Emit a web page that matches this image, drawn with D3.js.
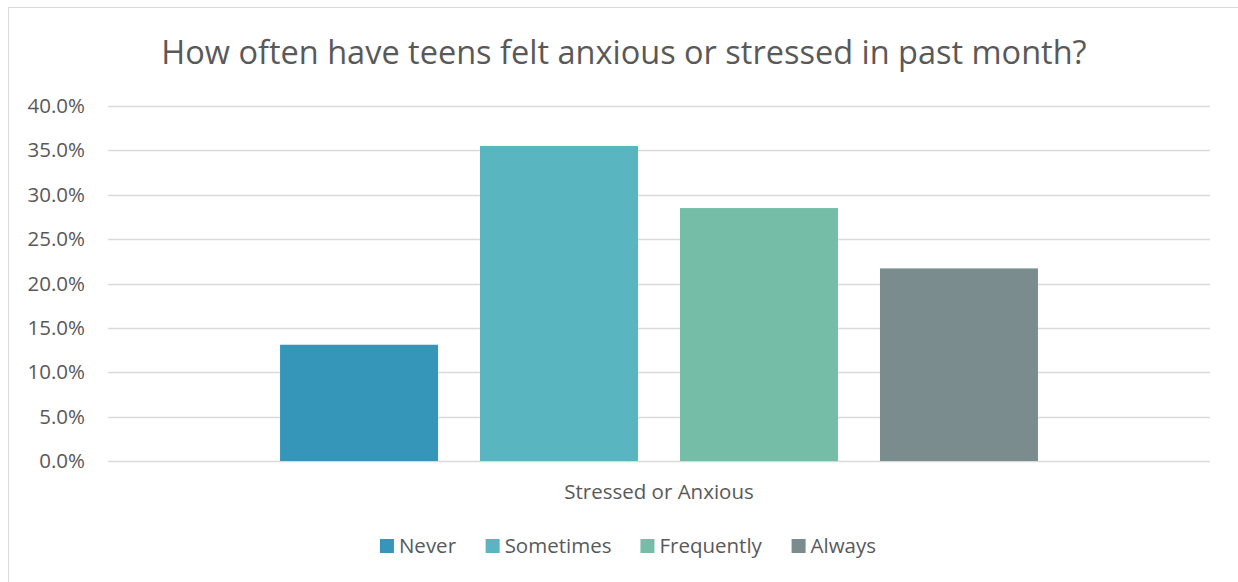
<!DOCTYPE html>
<html>
<head>
<meta charset="utf-8">
<script src="https://cdn.jsdelivr.net/npm/d3@7"></script>
<style>
  html, body { margin: 0; padding: 0; background: #fff; }
  svg { display: block; }
  text { font-family: "Open Sans", "Noto Sans", sans-serif; fill: #595959; }
</style>
</head>
<body>
<svg id="chart" width="1238" height="582"></svg>
<script>
// Survey responses: share of teens by how often they felt anxious/stressed
const categories = ["Stressed or Anxious"];
const seriesNames = ["Never", "Sometimes", "Frequently", "Always"];
const seriesValues = [0.131, 0.355, 0.285, 0.217];
const seriesColors = ["#3596B9", "#59B5C0", "#75BDA7", "#7A8C8E"];
const yTicks = [0, 0.05, 0.10, 0.15, 0.20, 0.25, 0.30, 0.35, 0.40];
const titleText = "How often have teens felt anxious or stressed in past month?";

const W = 1238, H = 582;
const margin = { top: 106, right: 28, bottom: 121, left: 108 };
const frameCenter = 626;
const svg = d3.select("#chart");

// Outer chart frame
svg.append("rect")
  .attr("x", 8.5).attr("y", 7.5)
  .attr("width", W + 10).attr("height", H + 10)
  .attr("fill", "#fff").attr("stroke", "#D9D9D9").attr("stroke-width", 1);

const x0 = d3.scaleBand()
  .domain(categories)
  .range([margin.left, W - margin.right])
  .paddingInner(0)
  .paddingOuter(0.227);

const x1 = d3.scaleBand()
  .domain(seriesNames)
  .range([0, x0.bandwidth()])
  .paddingInner(0.21)
  .paddingOuter(0);

const y = d3.scaleLinear()
  .domain([0, 0.40])
  .range([H - margin.bottom, margin.top]);

// Horizontal gridlines
svg.append("g")
  .selectAll("line")
  .data(yTicks)
  .join("line")
  .attr("x1", margin.left).attr("x2", W - margin.right)
  .attr("y1", d => Math.round(y(d)) + 0.5).attr("y2", d => Math.round(y(d)) + 0.5)
  .attr("stroke", "#D9D9D9").attr("stroke-width", 1.3);

// Y axis labels
const yAxis = d3.axisLeft(y)
  .tickValues(yTicks)
  .tickFormat(d3.format(".1%"))
  .tickSize(0)
  .tickPadding(23);

const yG = svg.append("g")
  .attr("transform", `translate(${margin.left},0)`)
  .call(yAxis);
yG.select(".domain").remove();
yG.selectAll("text")
  .style("font-size", "20.5px")
  .attr("fill", "#595959");

// Bars
const groups = svg.append("g")
  .selectAll("g")
  .data(categories)
  .join("g")
  .attr("transform", d => `translate(${x0(d)},0)`);

groups.selectAll("rect")
  .data(() => seriesNames.map((s, i) => ({ s, v: seriesValues[i], c: seriesColors[i] })))
  .join("rect")
  .attr("x", d => x1(d.s))
  .attr("width", x1.bandwidth())
  .attr("y", d => y(d.v))
  .attr("height", d => y(0) - y(d.v))
  .attr("fill", d => d.c);

// Category axis label
const xAxis = d3.axisBottom(x0).tickSize(0).tickPadding(23);
const xG = svg.append("g")
  .attr("transform", `translate(0,${y(0)})`)
  .call(xAxis);
xG.select(".domain").remove();
xG.selectAll("text")
  .style("font-size", "20.5px")
  .attr("fill", "#595959");

// Title, centred over the whole chart frame
svg.append("text")
  .attr("x", frameCenter - 2)
  .attr("y", 64)
  .attr("text-anchor", "middle")
  .style("font-size", "32.5px")
  .text(titleText);

// Legend, centred under the chart frame
const legend = svg.append("g").attr("transform", "translate(0,546)");
const items = legend.selectAll("g")
  .data(seriesNames)
  .join("g");
items.append("rect")
  .attr("width", 14).attr("height", 14)
  .attr("y", -7)
  .attr("fill", (d, i) => seriesColors[i]);
items.append("text")
  .attr("x", 19)
  .attr("y", 7)
  .style("font-size", "20.5px")
  .text(d => d);

const gap = 29;
let offsets = [], cursor = 0;
items.each(function () {
  offsets.push(cursor);
  cursor += this.getBBox().width + gap;
});
const totalW = cursor - gap;
const startX = frameCenter + 2 - totalW / 2;
items.attr("transform", (d, i) => `translate(${startX + offsets[i]},0)`);
</script>
</body>
</html>
